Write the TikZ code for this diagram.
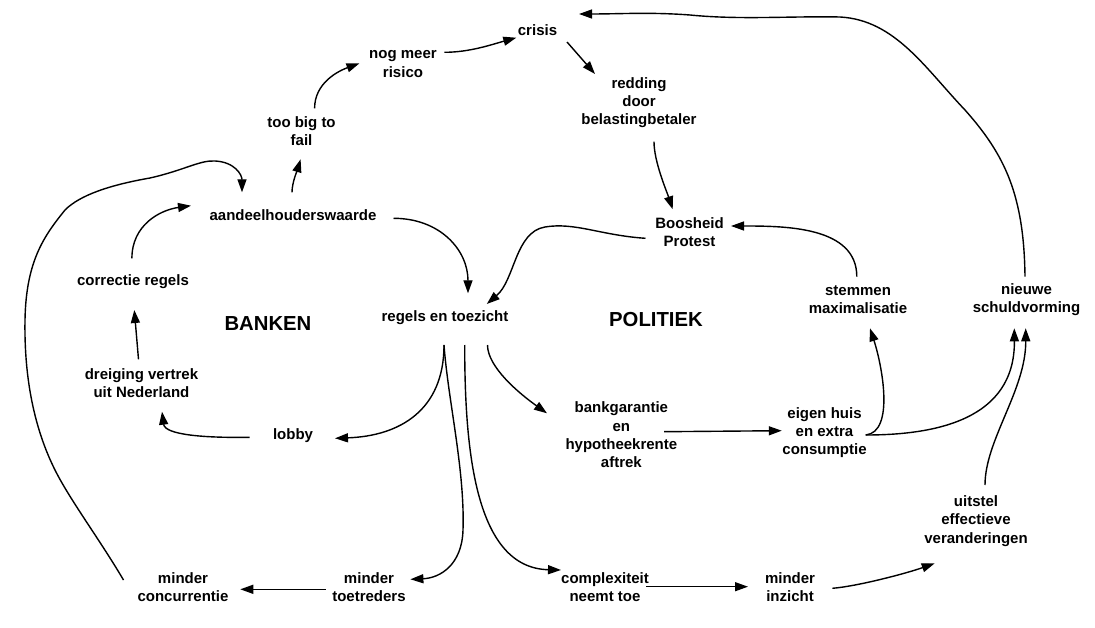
\documentclass[tikz,border=0pt]{standalone}
\usepackage{fontspec}
\setmainfont{Liberation Sans}
\usetikzlibrary{arrows.meta,calc}
\begin{document}
\begin{tikzpicture}[x=1pt,y=-1pt,
  lbl/.style={font=\fontsize{15}{18.3}\selectfont\bfseries, align=center, inner sep=0pt},
  heading/.style={font=\fontsize{20.3}{24}\selectfont\bfseries, inner sep=0pt},
  conn/.style={line width=1.4pt, -{Triangle[length=13pt,width=9pt]}}]
\fill[white] (0,0) rectangle (1095,628);
\useasboundingbox (0,0) rectangle (1095,628);

\node[lbl] (crisis) at (537.5,30) {crisis};
\node[lbl] (nog) at (403,64) {nog meer\\risico};
\node[lbl] (toobig) at (301.5,131) {too big to\\fail};
\node[lbl] (aandeel) at (293,215.3) {aandeelhouderswaarde};
\node[lbl] (correctie) at (133,282) {correctie regels};
\node[heading] (banken) at (268,323.3) {BANKEN};
\node[lbl] (regels) at (445,317.3) {regels en toezicht};
\node[heading] (politiek) at (656,319.3) {POLITIEK};
\node[lbl] (dreiging) at (141.5,383) {dreiging vertrek\\uit Nederland};
\node[lbl] (lobby) at (293,436) {lobby};
\node[lbl] (concur) at (183,587) {minder\\concurrentie};
\node[lbl] (toetr) at (369,587) {minder\\toetreders};
\node[lbl] (complex) at (605,587) {complexiteit\\neemt toe};
\node[lbl] (inzicht) at (790,587) {minder\\inzicht};
\node[lbl] (uitstel) at (976,521) {uitstel\\effectieve\\veranderingen};
\node[lbl] (bankgar) at (621.4,434.8) {bankgarantie\\en\\hypotheekrente\\aftrek};
\node[lbl] (eigen) at (824.5,432.6) {eigen huis\\en extra\\consumptie};
\node[lbl] (stemmen) at (858,299.5) {stemmen\\maximalisatie};
\node[lbl] (schuld) at (1026.5,299.5) {nieuwe\\schuldvorming};
\node[lbl] (boos) at (689.5,232) {Boosheid\\Protest};
\node[lbl] (redding) at (639,102.7) {redding\\door\\belastingbetaler};

% connectors
\draw[conn] ($(nog)+(41.4,-11.7)$) .. controls +(25,0) and +(-25,7) .. ($(crisis)+(-21.2,7.7)$);
\draw[conn] ($(toobig)+(13.1,-22.7)$) .. controls +(0,-25) and +(-22,8) .. ($(nog)+(-43.5,-0.7)$);
\draw[conn] ($(aandeel)+(-1,-23)$) .. controls +(0,-10) and +(-3,10) .. ($(toobig)+(-0.9,28.3)$);
\draw[conn] ($(correctie)+(-1.1,-23.7)$) .. controls +(0,-33.3) and +(-31,4.3) .. ($(aandeel)+(-102,-9.6)$);
\draw[conn] ($(aandeel)+(100.5,3)$) .. controls +(46.5,0) and +(0,-43.3) .. ($(regels)+(23,-24)$);
\draw[conn] ($(boos)+(-44,6.3)$) .. controls +(-45,-3) and (575,222) .. (545,227) .. controls (515,232) and (515,280) .. ($(regels)+(41.8,-13.3)$);
\draw[conn] ($(redding)+(15,39)$) .. controls +(0,20) and +(-6,-18) .. ($(boos)+(-16.8,-22.7)$);
\draw[conn] ($(crisis)+(29.5,12)$) -- ($(redding)+(-44,-28.7)$);
\draw[conn] ($(stemmen)+(-1.2,-22.8)$) .. controls +(0,-50) and +(55,0) .. ($(boos)+(41.5,-6)$);
\draw[conn] ($(schuld)+(-1.5,-22.8)$) .. controls (1024,195) and (1005,155) .. (965,110) .. controls (925,68) and (895,20) .. (840,17) .. controls (790,16) and (740,20) .. (690,15) .. controls (650,12) and (620,14) .. ($(crisis)+(41.5,-16)$);
\draw[conn] ($(regels)+(-1,27.7)$) .. controls +(0,65) and +(65,-2.3) .. ($(lobby)+(42,2.3)$);
\draw[conn] ($(regels)+(-1,27.7)$) .. controls +(4,55) and (465,470) .. (463,530) .. controls (462,565) and (440,578) .. ($(toetr)+(41.4,-7.7)$);
\draw[conn] ($(regels)+(19.7,27.7)$) .. controls +(0,105) and +(-86,-2) .. ($(complex)+(-44,-17)$);
\draw[conn] ($(regels)+(42.5,27.7)$) .. controls +(0,22) and +(-28,-20) .. ($(bankgar)+(-74.4,-21.5)$);
\draw[conn] ($(bankgar)+(42.6,-3.1)$) -- ($(eigen)+(-42.7,-1.9)$);
\draw[conn] ($(eigen)+(41.2,2.4)$) .. controls +(29.3,-3) and +(12,36.7) .. ($(stemmen)+(12,28.8)$);
\draw[conn] ($(eigen)+(41.2,2.4)$) .. controls +(69.3,0) and +(0.7,91.7) .. ($(schuld)+(-12.2,28.8)$);
\draw[conn] ($(uitstel)+(9,-36)$) .. controls +(0,-45) and +(0.3,61.7) .. ($(schuld)+(-0.8,28.8)$);
\draw[conn] ($(complex)+(41,-0.3)$) -- ($(inzicht)+(-42,-0.3)$);
\draw[conn] ($(inzicht)+(42.4,1.3)$) .. controls +(25,-2) and +(-28,10) .. ($(uitstel)+(-41.3,42.3)$);
\draw[conn] ($(toetr)+(-43.5,2.3)$) -- ($(concur)+(57.3,2.3)$);
\draw[conn] ($(lobby)+(-43.3,1.3)$) .. controls +(-44.7,0.7) and +(3,23.3) .. ($(dreiging)+(20.5,28.7)$);
\draw[conn] ($(dreiging)+(-3,-23.7)$) -- ($(correctie)+(1.3,28)$);
\draw[conn] ($(concur)+(-59.5,-7)$) .. controls (100,540) and (70,500) .. (55,470) .. controls (35,430) and (24,380) .. (25,320) .. controls (26,260) and (45,235) .. (65,210) .. controls (80,195) and (110,185) .. (150,178) .. controls (185,170) and (200,160) .. (215,161) .. controls (235,162) and (242,175) .. ($(aandeel)+(-51,-23)$);
\end{tikzpicture}
\end{document}
